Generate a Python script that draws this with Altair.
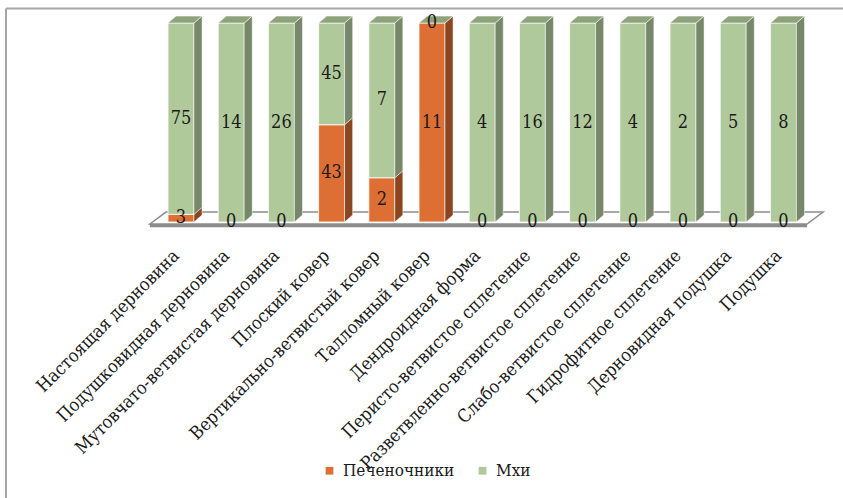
import json
import altair as alt
import pandas as pd

# Life forms of bryophytes: number of species per form
categories = [
    "Настоящая дерновина",
    "Подушковидная дерновина",
    "Мутовчато-ветвистая дерновина",
    "Плоский ковер",
    "Вертикально-ветвистый ковер",
    "Талломный ковер",
    "Дендроидная форма",
    "Перисто-ветвистое сплетение",
    "Разветвленно-ветвистое сплетение",
    "Слабо-ветвистое сплетение",
    "Гидрофитное сплетение",
    "Дерновидная подушка",
    "Подушка",
]
liverworts = [3, 0, 0, 43, 2, 11, 0, 0, 0, 0, 0, 0, 0]
mosses = [75, 14, 26, 45, 7, 0, 4, 16, 12, 4, 2, 5, 8]
series_names = ["Печеночники", "Мхи"]

# pseudo-3D column geometry (category units on x, percent units on y)
HALF_W = 0.259
DEPTH_X = 0.16
DEPTH_Y = 3.5
FLOOR_LEFT, FLOOR_RIGHT = -0.62, 12.47
FLOOR_FRONT, FLOOR_BACK = -1.0, 5.0
FLOOR_DX = 0.32

FRONT = ["#DD6F35", "#B0C99A"]
SIDE = ["#8B4621", "#76876A"]
TOP = "#8EA37C"
FONT = "'DejaVu Serif Condensed', 'DejaVu Serif', serif"

front_rows, side_rows, top_rows, label_rows = [], [], [], []
for i, cat in enumerate(categories):
    vals = [liverworts[i], mosses[i]]
    total = sum(vals)
    base = 0.0
    for s, v in zip(series_names, vals):
        pct = 100.0 * v / total
        y0, y1 = base, base + pct
        label_rows.append({"x": i, "y": (y0 + y1) / 2, "value": str(v)})
        if v > 0:
            xl, xr = i - HALF_W, i + HALF_W
            front_rows.append({"x": xl, "x2": xr, "y": y0, "y2": y1, "series": s})
            pid = f"{i}-{s}"
            side_rows.append({"poly": pid, "series": s, "x": xr, "y": y1, "y2": y0})
            side_rows.append({"poly": pid, "series": s, "x": xr + DEPTH_X,
                              "y": y1 + DEPTH_Y, "y2": y0 + DEPTH_Y})
        base = y1
    xl, xr = i - HALF_W, i + HALF_W
    top_rows += [
        {"poly": i, "x": xl, "y": 100.0, "y2": 100.0},
        {"poly": i, "x": xl + DEPTH_X, "y": 100.0 + DEPTH_Y, "y2": 100.0},
        {"poly": i, "x": xr, "y": 100.0 + DEPTH_Y, "y2": 100.0},
        {"poly": i, "x": xr + DEPTH_X, "y": 100.0 + DEPTH_Y, "y2": 100.0 + DEPTH_Y},
    ]

front_df = pd.DataFrame(front_rows)
side_df = pd.DataFrame(side_rows)
top_df = pd.DataFrame(top_rows)
label_df = pd.DataFrame(label_rows)
floor_df = pd.DataFrame([
    {"x": FLOOR_LEFT, "y": FLOOR_FRONT, "y2": FLOOR_FRONT},
    {"x": FLOOR_LEFT + FLOOR_DX, "y": FLOOR_BACK, "y2": FLOOR_FRONT},
    {"x": FLOOR_RIGHT, "y": FLOOR_BACK, "y2": FLOOR_FRONT},
    {"x": FLOOR_RIGHT + FLOOR_DX, "y": FLOOR_BACK, "y2": FLOOR_BACK},
])
slab_df = pd.DataFrame([{"x": FLOOR_LEFT, "x2": FLOOR_RIGHT, "y": FLOOR_FRONT, "y2": FLOOR_FRONT - 1.6}])

xs = alt.Scale(domain=[-0.8167, 13.127], nice=False, zero=False)
ys = alt.Scale(domain=[-4.02, 106.533], nice=False, zero=False)

label_expr = json.dumps(categories, ensure_ascii=False) + "[datum.value]"
x_axis = alt.Axis(
    values=list(range(len(categories))), labelExpr=label_expr, title=None,
    domain=False, ticks=False, grid=False, labelAngle=315, labelAlign="right",
    labelBaseline="middle", labelFont=FONT, labelFontSize=18, labelColor="#1a1a1a",
    labelPadding=23, labelOffset=-5, labelOverlap=False, labelFlush=False, labelBound=False,
    labelLimit=1000,
)

floor = alt.Chart(floor_df).mark_area(fill="white", stroke="#8c8c8c", strokeWidth=1.5).encode(
    x=alt.X("x:Q", scale=xs, axis=x_axis),
    y=alt.Y("y:Q", scale=ys, axis=None, stack=None),
    y2="y2:Q",
)
slab = alt.Chart(slab_df).mark_rect(color="#8c8c8c").encode(
    x=alt.X("x:Q", scale=xs), x2="x2:Q", y=alt.Y("y:Q", scale=ys), y2="y2:Q"
)

legend = alt.Legend(
    orient="none", legendX=181, legendY=452, direction="horizontal", title=None,
    symbolType="square", symbolSize=60, symbolStrokeWidth=0, labelFont=FONT,
    labelFontSize=17, labelColor="#1a1a1a", columnPadding=19, labelOffset=5,
)
front = alt.Chart(front_df).mark_rect(stroke="white", strokeWidth=1, strokeOpacity=0.8).encode(
    x=alt.X("x:Q", scale=xs), x2="x2:Q",
    y=alt.Y("y:Q", scale=ys), y2="y2:Q",
    color=alt.Color("series:N", scale=alt.Scale(domain=series_names, range=FRONT), legend=legend),
)
side = alt.Chart(side_df).mark_area(stroke="white", strokeWidth=0.8, strokeOpacity=0.6).encode(
    x=alt.X("x:Q", scale=xs),
    y=alt.Y("y:Q", scale=ys, stack=None), y2="y2:Q",
    detail="poly:N",
    color=alt.Color("series:N", scale=alt.Scale(domain=series_names, range=SIDE), legend=None),
)
top = alt.Chart(top_df).mark_area(color=TOP, stroke="white", strokeWidth=0.8, strokeOpacity=0.7).encode(
    x=alt.X("x:Q", scale=xs),
    y=alt.Y("y:Q", scale=ys, stack=None), y2="y2:Q",
    detail="poly:N",
)
labels = alt.Chart(label_df).mark_text(font=FONT, fontSize=18, color="#1a1a1a", baseline="middle").encode(
    x=alt.X("x:Q", scale=xs), y=alt.Y("y:Q", scale=ys), text="value:N"
)

frame_top = alt.Chart(pd.DataFrame({"k": [0]})).mark_rule(color="#a6a6a6", strokeWidth=2).encode(
    x=alt.value(-134), x2=alt.value(703), y=alt.value(-1.5)
)
frame_left = alt.Chart(pd.DataFrame({"k": [0]})).mark_rule(color="#a6a6a6", strokeWidth=2).encode(
    x=alt.value(-134), y=alt.value(-1.5), y2=alt.value(490)
)

chart = alt.layer(
    floor, slab, front, side, top, labels, frame_top, frame_left
).resolve_scale(color="independent").properties(
    width=700, height=220,
    autosize=alt.AutoSizeParams(type="none"),
    padding={"left": 140, "top": 10, "right": 3, "bottom": 268},
).configure_view(stroke=None)

chart.save("out.html", embed_options={"renderer": "svg", "actions": False})
